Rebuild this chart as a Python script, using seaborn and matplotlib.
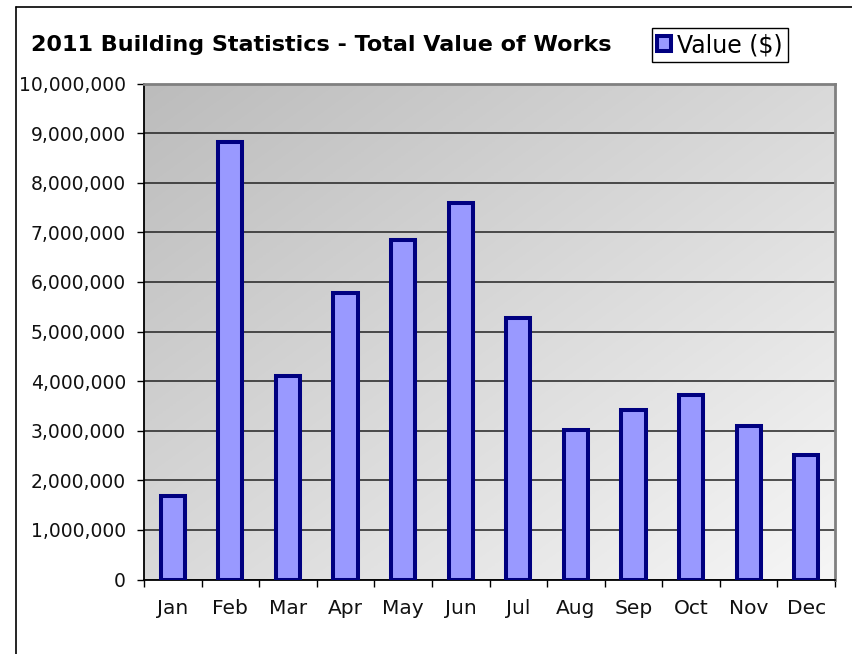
import numpy as np
import pandas as pd
import matplotlib
matplotlib.use("Agg")
import matplotlib.pyplot as plt
from matplotlib.lines import Line2D
from matplotlib.colors import LinearSegmentedColormap
from matplotlib.ticker import FuncFormatter, FixedLocator
import seaborn as sns

months = ["Jan", "Feb", "Mar", "Apr", "May", "Jun",
          "Jul", "Aug", "Sep", "Oct", "Nov", "Dec"]
values = [1690000, 8820000, 4110000, 5770000, 6850000, 7590000,
          5270000, 3020000, 3410000, 3710000, 3090000, 2520000]
series_label = "Value ($)"
title = "2011 Building Statistics - Total Value of Works"
y_ticks = [0, 1000000, 2000000, 3000000, 4000000, 5000000,
           6000000, 7000000, 8000000, 9000000, 10000000]

df = pd.DataFrame({"month": months, "value": values})

sns.set_theme(style="white")
plt.rcParams["font.family"] = ["DejaVu Sans"]
plt.rcParams["text.color"] = "black"

W, H = 852, 654
fig = plt.figure(figsize=(W / 100, H / 100), dpi=100)
fig.patch.set_facecolor("white")

L, R, T, B = 144, 835, 83.5, 579.5
ax = fig.add_axes([L / W, 1 - B / H, (R - L) / W, (B - T) / H])

# gradient background (dark top-left -> light bottom-right)
xx, yy = np.meshgrid(np.linspace(0, 1, 200), np.linspace(0, 1, 200))
grad = (xx - yy + 1) / 2.0
cmap = LinearSegmentedColormap.from_list("bg", ["#bcbcbc", "#f6f6f6"])
ax.imshow(grad, cmap=cmap, extent=[0, 1, 0, 1], transform=ax.transAxes,
          aspect="auto", origin="lower", zorder=-2, interpolation="bilinear")
ax.set_facecolor("none")

sns.barplot(data=df, x="month", y="value", ax=ax, color="#9999ff",
            saturation=1, edgecolor="#000080", linewidth=2.9, width=0.42,
            label=series_label, zorder=3)
if ax.get_legend() is not None:
    ax.get_legend().remove()

ax.set_xlim(-0.5, len(months) - 0.5)
ax.set_ylim(0, 10000000)
ax.set_yticks(y_ticks)
ax.yaxis.set_major_formatter(FuncFormatter(lambda v, p: f"{int(v):,}"))
ax.set_xlabel("")
ax.set_ylabel("")

ax.grid(axis="y", color="#222222", linewidth=1.1, zorder=1)
ax.grid(axis="x", visible=False)
ax.set_axisbelow(True)

ax.xaxis.set_minor_locator(FixedLocator(np.arange(-0.5, len(months), 1.0)))
ax.tick_params(axis="x", which="major", length=0, pad=14, labelsize=14.5,
               labelcolor="#111111")
ax.tick_params(axis="x", which="minor", length=5, width=1, color="black",
               direction="out", bottom=True)
ax.tick_params(axis="y", length=5, width=1, color="black", direction="out",
               left=True, pad=8, labelsize=13.5, labelcolor="#111111")

for s in ["left", "bottom"]:
    ax.spines[s].set_color("black")
    ax.spines[s].set_linewidth(1.3)
for s in ["top", "right"]:
    ax.spines[s].set_color("#808080")
    ax.spines[s].set_linewidth(2)

fig.text(31 / W, 1 - 45 / H, title, ha="left", va="center",
         fontsize=16, fontweight="bold", color="black")

handles, labels = ax.get_legend_handles_labels()
leg = fig.legend(handles, labels, loc="upper left",
                 bbox_to_anchor=(652 / W, 1 - 28 / H), borderaxespad=0,
                 fontsize=17, frameon=True, fancybox=False, edgecolor="black",
                 framealpha=1, handlelength=0.6, handleheight=0.6,
                 handletextpad=0.25, borderpad=0.22, labelcolor="black")
leg.get_frame().set_linewidth(1.0)

# outer chart border (left and top visible)
fig.add_artist(Line2D([16 / W, 16 / W], [0, 1 - 7 / H], color="black",
                      linewidth=1.2, transform=fig.transFigure))
fig.add_artist(Line2D([16 / W, 1], [1 - 7 / H, 1 - 7 / H], color="black",
                      linewidth=1.2, transform=fig.transFigure))

fig.savefig("out.png", dpi=100)
